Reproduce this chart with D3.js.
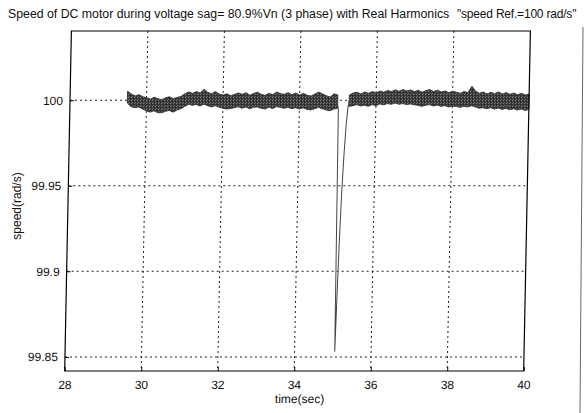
<!DOCTYPE html>
<html>
<head>
<meta charset="utf-8">
<script src="https://cdn.jsdelivr.net/npm/d3@7"></script>
<style>
  html, body { margin: 0; padding: 0; background: #fff; }
  svg { display: block; font-family: "Liberation Sans", Arial, sans-serif; }
</style>
</head>
<body>
<svg id="chart"></svg>
<script>
// speed band before the sag (upper / lower envelope of the ripple)
const bandT1 = [29.5, 29.6, 29.7, 29.8, 29.9, 30.0, 30.1, 30.2, 30.3, 30.4, 30.5, 30.6, 30.7, 30.8, 30.9,
  31.0, 31.1, 31.2, 31.3, 31.4, 31.5, 31.6, 31.7, 31.8, 31.9, 32.0, 32.1, 32.2, 32.3, 32.4, 32.5, 32.6,
  32.7, 32.8, 32.9, 33.0, 33.1, 33.2, 33.3, 33.4, 33.5, 33.6, 33.7, 33.8, 33.9, 34.0, 34.1, 34.2, 34.3,
  34.4, 34.5, 34.6, 34.7, 34.8, 34.9, 35.0];
const bandHi1 = [100.0052, 100.0036, 100.0025, 100.0032, 100.0020, 100.0014, 100.0006, 100.0017, 100.0008,
  100.0003, 100.0014, 100.0020, 100.0008, 100.0016, 100.0022, 100.0038, 100.0048, 100.0040, 100.0050,
  100.0042, 100.0064, 100.0045, 100.0038, 100.0050, 100.0036, 100.0030, 100.0037, 100.0026, 100.0034,
  100.0042, 100.0034, 100.0044, 100.0028, 100.0040, 100.0046, 100.0034, 100.0028, 100.0040, 100.0032,
  100.0048, 100.0038, 100.0034, 100.0044, 100.0032, 100.0042, 100.0030, 100.0040, 100.0028, 100.0024,
  100.0036, 100.0047, 100.0036, 100.0026, 100.0018, 100.0037, 100.0030];
const bandLo1 = [99.9983, 99.9962, 99.9956, 99.9960, 99.9948, 99.9938, 99.9930, 99.9938, 99.9927, 99.9926,
  99.9935, 99.9940, 99.9930, 99.9942, 99.9950, 99.9963, 99.9976, 99.9970, 99.9975, 99.9966, 99.9976,
  99.9968, 99.9960, 99.9968, 99.9958, 99.9953, 99.9948, 99.9952, 99.9956, 99.9962, 99.9953, 99.9960,
  99.9950, 99.9958, 99.9960, 99.9953, 99.9948, 99.9958, 99.9952, 99.9962, 99.9958, 99.9953, 99.9958,
  99.9950, 99.9956, 99.9948, 99.9955, 99.9946, 99.9943, 99.9950, 99.9958, 99.9950, 99.9943, 99.9938,
  99.9948, 99.9953];

// speed band after recovery
const bandT2 = [35.3, 35.4, 35.5, 35.6, 35.7, 35.8, 35.9, 36.0, 36.1, 36.2, 36.3, 36.4, 36.5, 36.6, 36.7,
  36.8, 36.9, 37.0, 37.1, 37.2, 37.3, 37.4, 37.5, 37.6, 37.7, 37.8, 37.9, 38.0, 38.1, 38.2, 38.3, 38.4,
  38.5, 38.6, 38.7, 38.8, 38.9, 39.0, 39.1, 39.2, 39.3, 39.4, 39.5, 39.6, 39.7, 39.8, 39.9, 40.0];
const bandHi2 = [100.0030, 100.0042, 100.0046, 100.0036, 100.0048, 100.0040, 100.0050, 100.0042, 100.0054,
  100.0046, 100.0057, 100.0050, 100.0060, 100.0052, 100.0062, 100.0054, 100.0060, 100.0050, 100.0058,
  100.0046, 100.0056, 100.0062, 100.0050, 100.0058, 100.0048, 100.0054, 100.0044, 100.0052, 100.0046,
  100.0040, 100.0050, 100.0044, 100.0082, 100.0052, 100.0040, 100.0048, 100.0036, 100.0046, 100.0038,
  100.0048, 100.0036, 100.0044, 100.0034, 100.0042, 100.0032, 100.0040, 100.0030, 100.0036];
const bandLo2 = [99.9963, 99.9968, 99.9974, 99.9966, 99.9971, 99.9964, 99.9974, 99.9968, 99.9978, 99.9973,
  99.9980, 99.9976, 99.9983, 99.9976, 99.9980, 99.9974, 99.9978, 99.9973, 99.9970, 99.9964, 99.9970,
  99.9974, 99.9966, 99.9972, 99.9964, 99.9968, 99.9960, 99.9966, 99.9963, 99.9958, 99.9964, 99.9960,
  99.9968, 99.9960, 99.9953, 99.9956, 99.9950, 99.9956, 99.9948, 99.9954, 99.9946, 99.9952, 99.9944,
  99.9950, 99.9942, 99.9948, 99.9940, 99.9946];

// the sag: drop and recovery
const dipT = [34.98, 35.02, 35.05, 35.08, 35.11, 35.15, 35.19, 35.23, 35.27, 35.30];
const dipV = [99.999, 99.995, 99.853, 99.885, 99.915, 99.946, 99.968, 99.985, 99.996, 100.000];

const xTicks = [28, 30, 32, 34, 36, 38, 40];
const yTicks = [99.85, 99.9, 99.95, 100];

const titleMain = "Speed of DC motor during voltage sag= 80.9%Vn (3 phase) with Real Harmonics";
const titleRef = "\"speed Ref.=100 rad/s\"";
const xLabel = "time(sec)";
const yLabel = "speed(rad/s)";

const width = 586, height = 413;
const marginLeft = 72, marginRight = 55, marginTop = 31, marginBottom = 42;

const x = d3.scaleLinear([28, 40], [marginLeft, width - marginRight]);
const y = d3.scaleLinear([99.8418, 100.0404], [height - marginBottom, marginTop]);

const svg = d3.select("#chart")
    .attr("width", width)
    .attr("height", height)
    .attr("viewBox", [0, 0, width, height]);

// speckled texture for the ripple band
const pat = svg.append("defs").append("pattern")
    .attr("id", "ripple")
    .attr("patternUnits", "userSpaceOnUse")
    .attr("width", 3).attr("height", 3);
pat.append("rect").attr("width", 3).attr("height", 3).attr("fill", "#2e2e2e");
pat.append("rect").attr("x", 1).attr("y", 1).attr("width", 1).attr("height", 1).attr("fill", "#b5b5b5");
pat.append("rect").attr("x", 2).attr("y", 0).attr("width", 1).attr("height", 1).attr("fill", "#777");

const title = svg.append("text")
    .attr("y", 18)
    .attr("font-size", 12.3)
    .attr("fill", "#111");
title.append("tspan").attr("x", 8).text(titleMain);
title.append("tspan").attr("x", 457).attr("font-size", 12).attr("letter-spacing", -0.2).text(titleRef);

// scanned page is slightly sheared
const g = svg.append("g").attr("transform", "skewX(-1.13)");

// grid
g.append("g")
    .attr("stroke", "#222")
    .attr("stroke-dasharray", "2,3")
    .call(s => s.selectAll("line.v").data(xTicks.slice(1, -1)).join("line")
        .attr("x1", d => x(d)).attr("x2", d => x(d))
        .attr("y1", y.range()[1]).attr("y2", y.range()[0]))
    .call(s => s.selectAll("line.h").data(yTicks).join("line")
        .attr("x1", x.range()[0]).attr("x2", x.range()[1])
        .attr("y1", d => y(d)).attr("y2", d => y(d)));

// data
const area = d3.area()
    .x(d => x(d[0]))
    .y0(d => y(d[2]))
    .y1(d => y(d[1]));

g.append("g")
    .attr("fill", "url(#ripple)")
    .attr("stroke", "#333")
    .attr("stroke-width", 0.9)
  .selectAll("path")
  .data([d3.zip(bandT1, bandHi1, bandLo1), d3.zip(bandT2, bandHi2, bandLo2)])
  .join("path")
    .attr("d", area);

g.append("path")
    .attr("fill", "none")
    .attr("stroke", "#444")
    .attr("stroke-width", 1)
    .attr("d", d3.line().x(d => x(d[0])).y(d => y(d[1]))(d3.zip(dipT, dipV)));

// axes (MATLAB style: ticks inside, box on)
g.append("g")
    .attr("transform", `translate(0,${y.range()[0]})`)
    .call(d3.axisBottom(x).tickValues(xTicks).tickSize(-4).tickPadding(9).tickSizeOuter(0))
    .call(s => s.select(".domain").remove())
    .call(s => s.selectAll("text").attr("font-size", 12).attr("fill", "#111"));

g.append("g")
    .attr("transform", `translate(${x.range()[0]},0)`)
    .call(d3.axisLeft(y).tickValues(yTicks).tickFormat(d3.format("")).tickSize(-4).tickPadding(7).tickSizeOuter(0))
    .call(s => s.select(".domain").remove())
    .call(s => s.selectAll("text").attr("font-size", 12).attr("fill", "#111"));

g.append("rect")
    .attr("x", x.range()[0])
    .attr("y", y.range()[1])
    .attr("width", x.range()[1] - x.range()[0])
    .attr("height", y.range()[0] - y.range()[1])
    .attr("fill", "none")
    .attr("stroke", "#000")
    .attr("stroke-width", 1.2);

g.append("text")
    .attr("x", (x.range()[0] + x.range()[1]) / 2 + 6)
    .attr("y", height - 10)
    .attr("text-anchor", "middle")
    .attr("font-size", 12)
    .attr("fill", "#111")
    .text(xLabel);

svg.append("text")
    .attr("transform", `translate(21,${(y.range()[0] + y.range()[1]) / 2 + 5}) rotate(-90)`)
    .attr("text-anchor", "middle")
    .attr("font-size", 12)
    .attr("fill", "#111")
    .text(yLabel);

// edge of the scanned page on the right
svg.append("line")
    .attr("x1", 583).attr("y1", 27)
    .attr("x2", 580).attr("y2", height)
    .attr("stroke", "#666");
</script>
</body>
</html>
